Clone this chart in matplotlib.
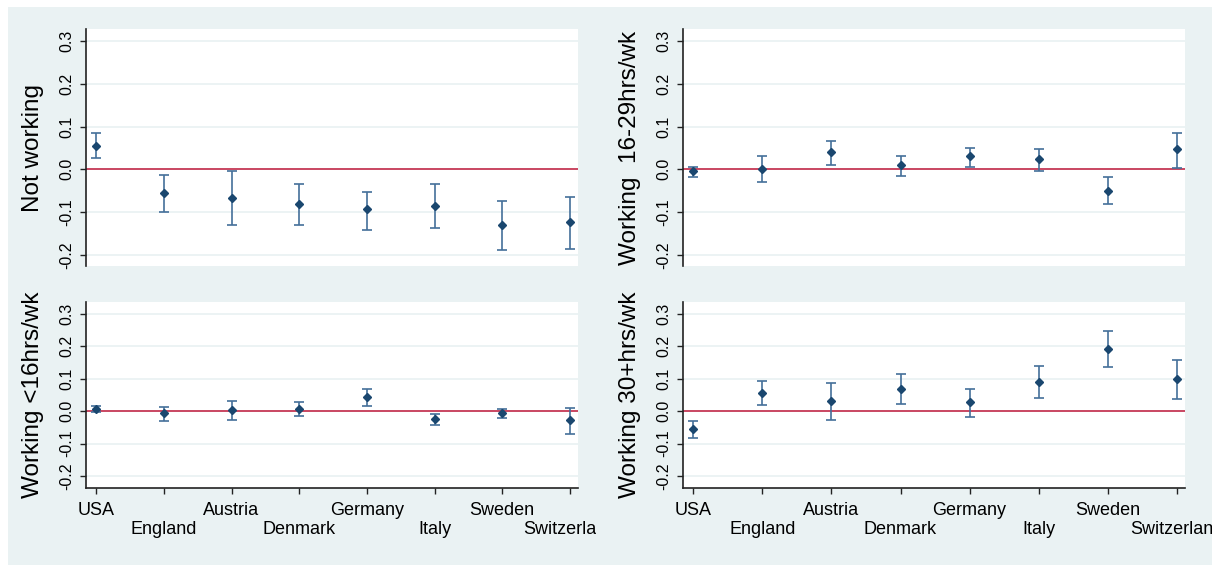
import matplotlib
matplotlib.use("Agg")
import matplotlib.pyplot as plt
from matplotlib.patches import Rectangle
from matplotlib.transforms import Bbox, TransformedBbox

plt.rcParams["font.family"] = ["Liberation Sans", "DejaVu Sans"]

# data: point estimate with lower / upper bound of the interval
countries = ["USA", "England", "Austria", "Denmark", "Germany", "Italy", "Sweden", "Switzerland"]

not_working = [0.055, -0.056, -0.067, -0.082, -0.093, -0.085, -0.131, -0.123]
not_working_lo = [0.027, -0.100, -0.130, -0.130, -0.141, -0.138, -0.189, -0.186]
not_working_hi = [0.084, -0.013, -0.005, -0.035, -0.052, -0.035, -0.075, -0.065]

work_16_29 = [-0.004, 0.001, 0.041, 0.009, 0.030, 0.023, -0.050, 0.047]
work_16_29_lo = [-0.019, -0.030, 0.011, -0.016, 0.005, -0.005, -0.081, 0.002]
work_16_29_hi = [0.005, 0.030, 0.067, 0.032, 0.051, 0.048, -0.019, 0.085]

work_lt16 = [0.006, -0.006, 0.004, 0.007, 0.043, -0.025, -0.006, -0.028]
work_lt16_lo = [-0.003, -0.030, -0.026, -0.016, 0.017, -0.044, -0.021, -0.069]
work_lt16_hi = [0.016, 0.013, 0.032, 0.028, 0.067, -0.008, 0.006, 0.010]

work_30 = [-0.055, 0.056, 0.030, 0.069, 0.027, 0.091, 0.192, 0.098]
work_30_lo = [-0.082, 0.018, -0.028, 0.022, -0.018, 0.040, 0.135, 0.039]
work_30_hi = [-0.029, 0.093, 0.086, 0.114, 0.068, 0.139, 0.246, 0.158]

y_ticks = [-0.2, -0.1, 0.0, 0.1, 0.2, 0.3]
y_tick_labels = ["-0.2", "-0.1", "0.0", "0.1", "0.2", "0.3"]

# colours (Stata s2color look)
BG = "#EAF2F3"
GRID = "#EAF2F3"
MARKER = "#1A476F"
CAP = "#44709A"
ZERO = "#C0183A"

W, H = 1218, 568
fig = plt.figure(figsize=(W / 100, H / 100), dpi=100)
fig.patch.set_facecolor("white")
fig.add_artist(Rectangle((8 / W, 1 - 565 / H), (1212 - 8) / W, (565 - 7) / H,
                         transform=fig.transFigure, facecolor=BG, edgecolor="none", zorder=-5))


def px_axes(left, top, right, bottom):
    return fig.add_axes([left / W, 1 - bottom / H, (right - left) / W, (bottom - top) / H])


PANELS = [
    # (rect px, values, lo, hi, ylabel, show x axis, ylim, clip right px)
    ((86, 29, 578, 266), not_working, not_working_lo, not_working_hi, "Not working", False, (-0.226, 0.328), 596),
    ((683, 29, 1185, 266), work_16_29, work_16_29_lo, work_16_29_hi, "Working  16-29hrs/wk", False, (-0.226, 0.328), 1212),
    ((86, 302, 578, 488), work_lt16, work_lt16_lo, work_lt16_hi, "Working <16hrs/wk", True, (-0.237, 0.337), 596),
    ((683, 302, 1185, 488), work_30, work_30_lo, work_30_hi, "Working 30+hrs/wk", True, (-0.237, 0.337), 1212),
]

x = list(range(1, len(countries) + 1))

for rect, vals, lo, hi, ylab, show_x, ylim, clip_right in PANELS:
    ax = px_axes(*rect)
    ax.set_facecolor("white")

    err_lo = [v - l for v, l in zip(vals, lo)]
    err_hi = [h - v for v, h in zip(vals, hi)]
    ax.errorbar(x, vals, yerr=[err_lo, err_hi], fmt="none", ecolor=CAP,
                elinewidth=1.2, capsize=3.5, capthick=1.2, zorder=3)
    ax.plot(x, vals, linestyle="none", marker="D", markersize=4.2, color=MARKER, zorder=4)

    ax.axhline(0, color=ZERO, linewidth=1.1, zorder=2)

    ax.set_xlim(0.85, 8.12)
    ax.set_ylim(*ylim)
    ax.set_yticks(y_ticks)
    ax.set_yticklabels(y_tick_labels, rotation=90, va="center", fontsize=11.5)
    ax.grid(axis="y", color=GRID, linewidth=1.3, zorder=1)
    ax.set_axisbelow(True)
    ax.tick_params(axis="y", length=4.5, width=1, pad=4, colors="#222222", labelcolor="black")

    for side in ["top", "right"]:
        ax.spines[side].set_visible(False)
    ax.spines["left"].set_linewidth(1.2)
    ax.spines["left"].set_color("#222222")

    if show_x:
        ax.spines["bottom"].set_linewidth(1.2)
        ax.spines["bottom"].set_color("#222222")
        ax.set_xticks(x)
        ax.set_xticklabels(countries, fontsize=13)
        ax.tick_params(axis="x", length=4.5, width=1, colors="#222222", labelcolor="black")
        clip = TransformedBbox(Bbox.from_extents(0, 0, clip_right / W, 1), fig.transFigure)
        for i, tick in enumerate(ax.xaxis.get_major_ticks()):
            # stagger the country names on two rows
            tick.set_pad(5.5 if i % 2 == 0 else 19)
            tick.label1.set_clip_box(clip)
            tick.label1.set_clip_on(True)
    else:
        ax.spines["bottom"].set_visible(False)
        ax.set_xticks([])

    ax.set_ylabel(ylab, fontsize=17.5)
    ax.yaxis.set_label_coords(-42 / (rect[2] - rect[0]), 0.5)

plt.savefig("out.png", dpi=100, facecolor=fig.get_facecolor())
